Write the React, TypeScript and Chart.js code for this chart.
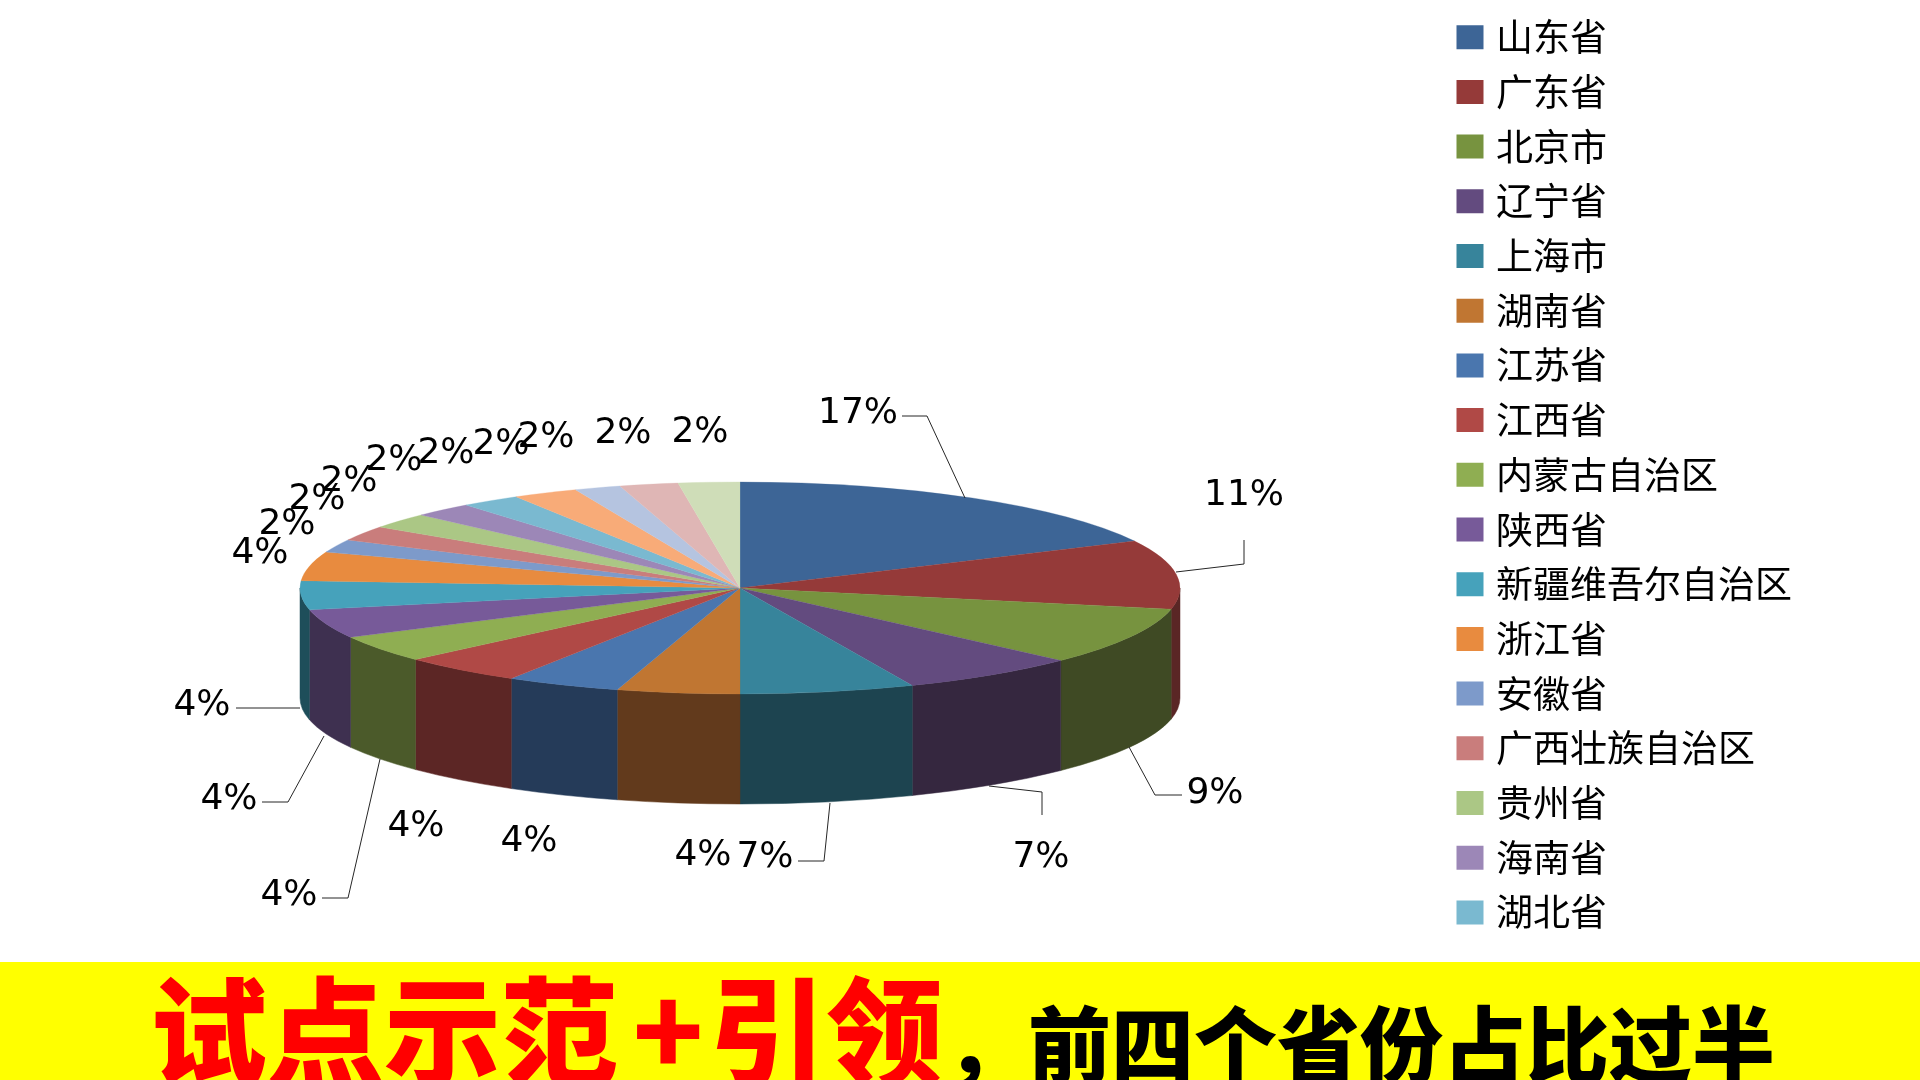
import React, { useEffect, useRef } from "react";
import { Chart, registerables } from "chart.js";

Chart.register(...registerables);

const categories = ["山东省","广东省","北京市","辽宁省","上海市","湖南省","江苏省","江西省","内蒙古自治区","陕西省","新疆维吾尔自治区","浙江省","安徽省","广西壮族自治区","贵州省","海南省","湖北省"];
// 21 slices in the pie; only the first 17 have a visible legend row
const shares = [17.7,10.5,8.8,6.6,6.4,4.5,4.2,4.5,4.1,4.4,4.4,4.4,2.0,2.25,2.35,2.2,2.2,2.4,1.7,2.15,2.25];
const percentLabels = ["17%","11%","9%","7%","7%","4%","4%","4%","4%","4%","4%","4%","2%","2%","2%","2%","2%","2%","2%","2%","2%"];
const topColors = ["#3D6596","#953A39","#77933F","#634B7F","#37849B","#C07632","#4A76AE","#B04946","#8FAE52","#775A99","#46A2BB","#E88B3F","#7D9ACA","#C97D7C","#ABC785","#9C87B7","#7AB9D0","#F8AB78","#B5C4E0","#DFB6B5","#CFDDB8"];
const wallColors = ["#2A4465","#5A2625","#3F4A24","#35273F","#1D4450","#623A1C","#253B59","#5C2625","#4B5A2A","#3E3050","#1E4E5A","#7A4A20","#3F4E68","#663F3F","#576545","#50455E","#3E5F6A","#7F5A3F","#5C6472","#715C5C","#696F5E"];

// Layout of the hand-placed labels and leader lines (canvas pixels)
const labelCentres: [number, number][] = [[858,414],[1244,496],[1215,794],[1041,858],[765,858],[703,856],[529,842],[416,827],[289,896],[229,800],[202,706],[260,554],[287,525],[317,500],[349,482],[394,461],[446,454],[501,445],[546,438],[623,434],[700,433]];
const leaders: [number, number][][] = [
  [[902,416],[927,416],[965,498]],
  [[1244,540],[1244,564],[1176,572]],
  [[1182,795],[1155,795],[1129,747]],
  [[1042,815],[1042,792],[989,786]],
  [[798,861],[824,861],[830,803]],
  [[322,898],[348,898],[380,759]],
  [[262,802],[288,802],[324,736]],
  [[236,708],[300,708]],
];
const CX = 740, CY = 588, RX = 440, RY = 106, DEPTH = 110;

const pie3d = {
  id: "pie3d",
  beforeDatasetsDraw(chart: any) {
    const ctx = chart.ctx;
    const arcs = chart.getDatasetMeta(0).data;
    ctx.save();
    arcs.forEach((arc: any, i: number) => {
      const { startAngle, endAngle } = arc.getProps(["startAngle", "endAngle"], true);
      const s = Math.max(startAngle, 0), e = Math.min(endAngle, Math.PI);
      if (s >= e) return;
      ctx.beginPath();
      ctx.ellipse(CX, CY, RX, RY, 0, s, e);
      ctx.ellipse(CX, CY + DEPTH, RX, RY, 0, e, s, true);
      ctx.closePath();
      ctx.fillStyle = wallColors[i];
      ctx.strokeStyle = wallColors[i];
      ctx.lineWidth = 0.5;
      ctx.fill();
      ctx.stroke();
    });
    ctx.restore();
  },
  beforeDatasetDraw(chart: any) {
    const ctx = chart.ctx;
    const arc = chart.getDatasetMeta(0).data[0];
    ctx.save();
    ctx.translate(CX, CY);
    ctx.scale(1, RY / RX);
    ctx.translate(-arc.x, -arc.y);
  },
  afterDatasetDraw(chart: any) {
    chart.ctx.restore();
  },
  afterDatasetsDraw(chart: any) {
    const ctx = chart.ctx;
    ctx.save();
    ctx.strokeStyle = "#262626";
    ctx.lineWidth = 1;
    leaders.forEach((pts) => {
      ctx.beginPath();
      pts.forEach(([x, y], k) => (k ? ctx.lineTo(x, y) : ctx.moveTo(x, y)));
      ctx.stroke();
    });
    ctx.fillStyle = "#000";
    ctx.font = '36px "DejaVu Sans"';
    ctx.textAlign = "center";
    ctx.textBaseline = "middle";
    percentLabels.forEach((t, i) => ctx.fillText(t, labelCentres[i][0], labelCentres[i][1]));
    ctx.restore();
  },
};

export default function App() {
  const ref = useRef<HTMLCanvasElement>(null);
  useEffect(() => {
    document.body.style.margin = "0";
    const chart = new Chart(ref.current!, {
      type: "pie",
      data: {
        labels: categories,
        datasets: [{ data: shares, backgroundColor: topColors, borderColor: topColors, borderWidth: 0.5, radius: RX } as any],
      },
      options: {
        animation: false,
        responsive: false,
        devicePixelRatio: 1,
        layout: { padding: { right: 118, top: 1 } },
        plugins: {
          tooltip: { enabled: false },
          legend: {
            position: "right",
            align: "start",
            labels: {
              color: "#000",
              font: { family: '"Noto Sans CJK SC"', size: 37 },
              boxWidth: 15,
              boxHeight: 12,
              padding: 17.7,
              generateLabels: (c: any) =>
                (Chart as any).overrides.pie.plugins.legend.labels.generateLabels(c).map((it: any, i: number) => ({
                  ...it,
                  lineWidth: 12,
                  strokeStyle: topColors[i],
                })),
            },
          },
        },
      } as any,
      plugins: [pie3d],
    });
    return () => chart.destroy();
  }, []);
  return (
    <div style={{ position: "relative", width: 1920, height: 1080, overflow: "hidden", background: "#fff" }}>
      <canvas ref={ref} width={1920} height={1080} style={{ display: "block" }} />
      <div style={{ position: "absolute", left: 0, top: 962, width: 1920, height: 118, background: "#FFFF00", overflow: "hidden", fontFamily: '"Noto Sans CJK SC"', fontWeight: 900, whiteSpace: "nowrap" }}>
        <div style={{ position: "absolute", left: 150, top: -7, fontSize: 117, lineHeight: "140px", color: "#FF0000" }}>
          试点示范<span style={{ display: "inline-block", width: 100, marginRight: -9, textAlign: "center" }}>+</span>引领
        </div>
        <div style={{ position: "absolute", left: 945, top: 23, fontSize: 83, lineHeight: "110px", color: "#000" }}>，前四个省份占比过半</div>
      </div>
    </div>
  );
}
